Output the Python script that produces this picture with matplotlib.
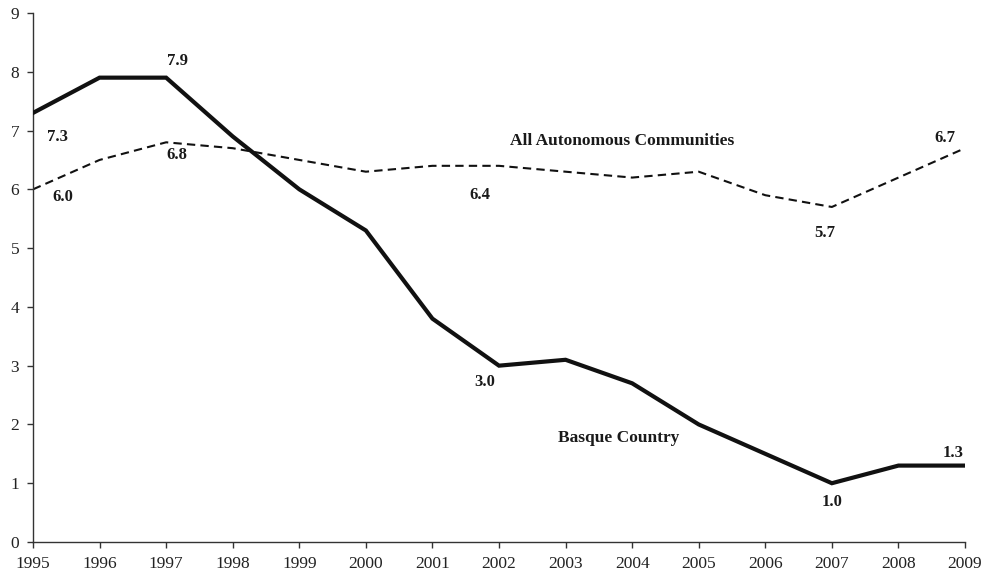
import matplotlib
matplotlib.use("Agg")
import matplotlib.pyplot as plt

years = list(range(1995, 2010))
basque = [7.3, 7.9, 7.9, 6.9, 6.0, 5.3, 3.8, 3.0, 3.1, 2.7, 2.0, 1.5, 1.0, 1.3, 1.3]
all_ac = [6.0, 6.5, 6.8, 6.7, 6.5, 6.3, 6.4, 6.4, 6.3, 6.2, 6.3, 5.9, 5.7, 6.2, 6.7]

# labelled points: (year, offset in pixels)
basque_labels = [(1995, (25, -24)), (1997, (11, 17)), (2002, (-14, -16)), (2007, (0, -19)), (2009, (-12, 13))]
all_labels = [(1995, (30, -8)), (1997, (11, -13)), (2002, (-19, -29)), (2007, (-7, -26)), (2009, (-20, 10))]

plt.rcParams['font.family'] = ['Liberation Serif', 'DejaVu Serif']

fig = plt.figure(figsize=(9.87, 5.76), dpi=100)
ax = fig.add_axes([33/987, 34/576, (965-33)/987, (542-13)/576])

ax.plot(years, basque, color='#111111', lw=3.0, solid_joinstyle='miter', zorder=3)
ax.plot(years, all_ac, color='#111111', lw=1.5, linestyle=(0, (4, 2.5)), zorder=2)

for yr, off in basque_labels:
    v = basque[years.index(yr)]
    ax.annotate(f"{v:.1f}", (yr, v), xytext=off, textcoords='offset pixels',
                ha='center', va='center', fontsize=12, fontweight='bold', color='#1a1a1a')
for yr, off in all_labels:
    v = all_ac[years.index(yr)]
    ax.annotate(f"{v:.1f}", (yr, v), xytext=off, textcoords='offset pixels',
                ha='center', va='center', fontsize=12, fontweight='bold', color='#1a1a1a')

ax.text(2003.85, 6.83, "All Autonomous Communities", ha='center', va='center',
        fontsize=12.5, fontweight='bold', color='#1a1a1a')
ax.text(2003.8, 1.77, "Basque Country", ha='center', va='center',
        fontsize=12.5, fontweight='bold', color='#1a1a1a')

ax.set_xlim(1995, 2009)
ax.set_ylim(0, 9)
ax.set_xticks(years)
ax.set_yticks(range(0, 10))
ax.spines['top'].set_visible(False)
ax.spines['right'].set_visible(False)
for s in ('left', 'bottom'):
    ax.spines[s].set_color('#333333')
    ax.spines[s].set_linewidth(1.0)
ax.tick_params(axis='both', direction='out', length=4, width=1, color='#333333',
               labelsize=12.5, labelcolor='#222222')
ax.tick_params(axis='x', pad=6)
ax.tick_params(axis='y', pad=6)

fig.savefig('out.png', dpi=100)
